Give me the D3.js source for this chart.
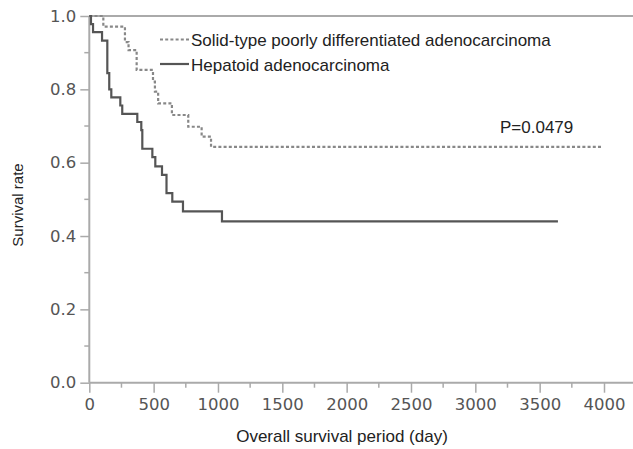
<!DOCTYPE html>
<html>
<head>
<meta charset="utf-8">
<script src="https://cdn.jsdelivr.net/npm/d3@7"></script>
<style>
  body { margin: 0; background: #fff; }
  svg { display: block; }
  .tick text { font-family: "DejaVu Sans", sans-serif; font-size: 16.5px; fill: #555; }
  .lab { font-family: "Liberation Sans", Arial, sans-serif; fill: #222; }
</style>
</head>
<body>
<div id="chart"></div>
<script>
// Kaplan-Meier steps: [day, survival]
var hepatoidSteps = [[0, 1.0], [13, 0.978], [29, 0.956], [99, 0.933], [140, 0.844], [155, 0.80],
  [171, 0.778], [241, 0.756], [256, 0.733], [373, 0.711], [404, 0.689], [412, 0.638],
  [490, 0.615], [513, 0.59], [565, 0.567], [600, 0.517], [645, 0.494], [728, 0.467], [1031, 0.44]];
var hepatoidEnd = 3642;

var solidSteps = [[0, 1.0], [109, 0.971], [277, 0.929], [305, 0.907], [368, 0.853], [495, 0.821],
  [510, 0.794], [535, 0.762], [642, 0.73], [769, 0.698], [873, 0.671], [946, 0.643]];
var solidEnd = 3977;

var seriesNames = ["Solid-type poorly differentiated adenocarcinoma", "Hepatoid adenocarcinoma"];
var xTicks = [0, 500, 1000, 1500, 2000, 2500, 3000, 3500, 4000];
var yTicks = [0.0, 0.2, 0.4, 0.6, 0.8, 1.0];
var pLabel = "P=0.0479";

var W = 633, H = 449;
var x = d3.scaleLinear().domain([0, 4000]).range([89.3, 604]);
var y = d3.scaleLinear().domain([0, 1]).range([382.7, 16]);

var svg = d3.select("#chart").append("svg")
  .attr("width", W)
  .attr("height", H);

// minor ticks
var minorX = d3.range(250, 4300, 500);
var minorY = d3.range(0.1, 1, 0.2);
svg.append("g").selectAll("line")
  .data(minorX)
  .enter().append("line")
  .attr("x1", function(d) { return x(d); })
  .attr("x2", function(d) { return x(d); })
  .attr("y1", y(0))
  .attr("y2", y(0) + 5)
  .attr("stroke", "#aaa")
  .attr("stroke-width", 1.5);
svg.append("g").selectAll("line")
  .data(minorY)
  .enter().append("line")
  .attr("x1", x(0) - 5)
  .attr("x2", x(0))
  .attr("y1", function(d) { return y(d); })
  .attr("y2", function(d) { return y(d); })
  .attr("stroke", "#aaa")
  .attr("stroke-width", 1.5);

// axes
var xAxis = svg.append("g")
  .attr("transform", "translate(0," + y(0) + ")")
  .call(d3.axisBottom(x).tickValues(xTicks).tickSize(10).tickPadding(6)
    .tickFormat(d3.format("d")).tickSizeOuter(0));
var yAxis = svg.append("g")
  .attr("transform", "translate(" + x(0) + ",0)")
  .call(d3.axisLeft(y).tickValues(yTicks).tickSize(9).tickPadding(4)
    .tickFormat(d3.format(".1f")).tickSizeOuter(0));
[xAxis, yAxis].forEach(function(g) {
  g.select(".domain").remove();
  g.selectAll(".tick line").attr("stroke", "#aaa").attr("stroke-width", 1.5);
});

// axis lines (bottom and top line at 1.0)
svg.append("line")
  .attr("x1", x(0)).attr("x2", W)
  .attr("y1", y(0)).attr("y2", y(0))
  .attr("stroke", "#aaa").attr("stroke-width", 2);
svg.append("line")
  .attr("x1", x(0)).attr("x2", W)
  .attr("y1", y(1)).attr("y2", y(1))
  .attr("stroke", "#aaa").attr("stroke-width", 2);
svg.append("line")
  .attr("x1", x(0)).attr("x2", x(0))
  .attr("y1", y(0)).attr("y2", y(1))
  .attr("stroke", "#aaa").attr("stroke-width", 2);

var line = d3.line()
  .x(function(d) { return x(d[0]); })
  .y(function(d) { return y(d[1]); })
  .curve(d3.curveStepAfter);

svg.append("path")
  .datum(solidSteps.concat([[solidEnd, solidSteps[solidSteps.length - 1][1]]]))
  .attr("d", line)
  .attr("fill", "none")
  .attr("stroke", "#888")
  .attr("stroke-width", 2.2)
  .attr("stroke-dasharray", "3,2.2");

svg.append("path")
  .datum(hepatoidSteps.concat([[hepatoidEnd, hepatoidSteps[hepatoidSteps.length - 1][1]]]))
  .attr("d", line)
  .attr("fill", "none")
  .attr("stroke", "#555")
  .attr("stroke-width", 2.2);

// legend
var legend = [
  {name: seriesNames[0], y: 39.5, base: 45.5, color: "#888", dash: "3,2.2"},
  {name: seriesNames[1], y: 64, base: 71, color: "#555", dash: null}
];
legend.forEach(function(l) {
  svg.append("line")
    .attr("x1", 160).attr("x2", 189)
    .attr("y1", l.y).attr("y2", l.y)
    .attr("stroke", l.color)
    .attr("stroke-width", 2.2)
    .attr("stroke-dasharray", l.dash);
  svg.append("text")
    .attr("class", "lab")
    .attr("x", 191)
    .attr("y", l.base)
    .style("font-size", "17px")
    .text(l.name);
});

svg.append("text")
  .attr("class", "lab")
  .attr("x", 500)
  .attr("y", 133)
  .style("font-size", "17px")
  .text(pLabel);

// axis titles
svg.append("text")
  .attr("class", "lab")
  .attr("x", 342)
  .attr("y", 442)
  .attr("text-anchor", "middle")
  .style("font-size", "17px")
  .text("Overall survival period (day)");

svg.append("text")
  .attr("class", "lab")
  .attr("transform", "translate(23,205) rotate(-90)")
  .attr("text-anchor", "middle")
  .style("font-size", "15px")
  .text("Survival rate");
</script>
</body>
</html>
